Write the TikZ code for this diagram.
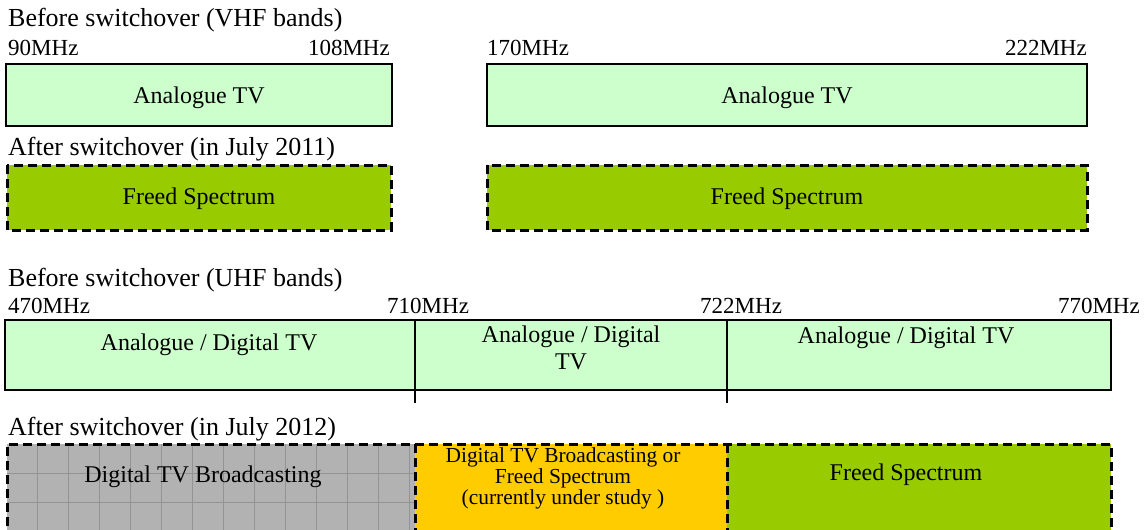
\documentclass[tikz,border=0pt]{standalone}
\usepackage{fontspec}
\setmainfont{Liberation Serif}
\definecolor{paleGreen}{HTML}{CCFFCC}
\definecolor{freedGreen}{HTML}{99CC00}
\definecolor{studyYellow}{HTML}{FFCC00}
\definecolor{digiGrey}{HTML}{B2B2B2}
\tikzset{
  oldband/.style={draw=black, line width=2pt, fill=paleGreen},
  newband/.style={draw=black, line width=3pt, dash pattern=on 9pt off 5pt},
  lbl/.style={inner sep=0pt, anchor=base west, font=\fontsize{23}{26}\selectfont},
  rlbl/.style={lbl, anchor=base east},
  headlbl/.style={lbl, font=\fontsize{26}{28}\selectfont},
  inlbl/.style={inner sep=0pt, anchor=base, align=center, font=\fontsize{24}{27}\selectfont},
  smlbl/.style={inner sep=0pt, anchor=base, align=center, font=\fontsize{21.4}{21}\selectfont},
}
\begin{document}
\begin{tikzpicture}[x=1pt,y=-1pt]
\useasboundingbox (0,0) rectangle (1144,530);

% VHF, before
\node[headlbl] (vhfhead) at (8,26) {Before switchover (VHF bands)};
\node[lbl] (f90) at (8,55) {90MHz};
\node[rlbl] (f108) at (390,55) {108MHz};
\node[lbl] (f170) at (487,55) {170MHz};
\node[rlbl] (f222) at (1087,55) {222MHz};
\draw[oldband] (6,64) rectangle (392,126);
\draw[oldband] (487,64) rectangle (1087,126);
\node[inlbl] (atv1) at (199,103) {Analogue TV};
\node[inlbl] (atv2) at (787,103) {Analogue TV};

% VHF, after
\node[headlbl] (vhfafter) at (8,155) {After switchover (in July 2011)};
\fill[freedGreen] (7,165) rectangle (391,230);
\fill[freedGreen] (487,165) rectangle (1087,230);
\draw[newband] (7,165) rectangle (391,230);
\draw[newband] (487,165) rectangle (1087,230);
\node[inlbl] (fs1) at (199,204) {Freed Spectrum};
\node[inlbl] (fs2) at (787,204) {Freed Spectrum};

% UHF, before
\node[headlbl] (uhfhead) at (8,286) {Before switchover (UHF bands)};
\node[lbl] (f470) at (8,313) {470MHz};
\node[lbl] (f710) at (387,313) {710MHz};
\node[lbl] (f722) at (700,313) {722MHz};
\node[rlbl] (f770) at (1140,313) {770MHz};
\draw[oldband] (5,320) rectangle (1111,390);
\draw[line width=2pt] (415,320) -- (415,403) (727,320) -- (727,403);
\node[inlbl] (adtv1) at (209,350) {Analogue / Digital TV};
\node[inlbl, anchor=north] (adtv2) at (571,326) {Analogue / Digital\\TV};
\node[inlbl] (adtv3) at (906,343) {Analogue / Digital TV};

% UHF, after
\node[headlbl] (uhfafter) at (8,435) {After switchover (in July 2012)};
\fill[digiGrey] (7,444) rectangle (415,540);
\foreach \gx in {37,68,99,130,161,192,223,254,285,316,347,378,409}
  \draw[gray!85, line width=1pt] (\gx,444) -- (\gx,540);
\foreach \gy in {473,502}
  \draw[gray!85, line width=1pt] (7,\gy) -- (415,\gy);
\fill[studyYellow] (415,444) rectangle (727,540);
\fill[freedGreen] (727,444) rectangle (1111,540);
\draw[newband] (7,540) -- (7,444) -- (1111,444) -- (1111,540)
  (415,444) -- (415,540) (727,444) -- (727,540);
\node[inlbl] (dtvb) at (203,482) {Digital TV Broadcasting};
\node[smlbl, anchor=north] (study) at (563,447) {Digital TV Broadcasting or\\Freed Spectrum\\(currently under study )};
\node[inlbl] (fs3) at (906,480) {Freed Spectrum};
\end{tikzpicture}
\end{document}
